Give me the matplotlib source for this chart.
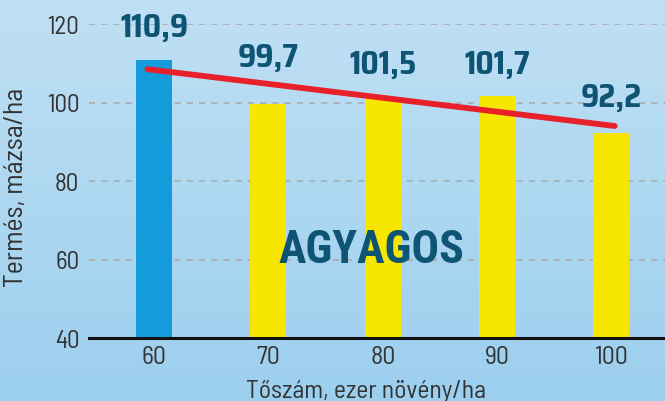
import numpy as np
import matplotlib
matplotlib.use("Agg")
import matplotlib.pyplot as plt

categories = [60, 70, 80, 90, 100]
values = [110.9, 99.7, 101.5, 101.7, 92.2]
value_labels = ["110,9", "99,7", "101,5", "101,7", "92,2"]
y_ticks = [40, 60, 80, 100, 120]
x_label = "Tőszám, ezer növény/ha"
y_label = "Termés, mázsa/ha"
title_text = "AGYAGOS"

tick_font = ["Barlow Semi Condensed", "DejaVu Sans"]
value_font = ["Saira SemiCondensed", "DejaVu Sans"]
title_font = ["Roboto Condensed", "DejaVu Sans"]

W, H = 665, 402
fig = plt.figure(figsize=(W / 100, H / 100), dpi=100)

# background gradient
bg = fig.add_axes([0, 0, 1, 1], zorder=-10)
grad = np.linspace(0, 1, 256).reshape(-1, 1)
top = np.array([0xc0, 0xe0, 0xf4]) / 255
bot = np.array([0x9c, 0xcf, 0xee]) / 255
img = top[None, None, :] * (1 - grad[:, :, None]) + bot[None, None, :] * grad[:, :, None]
bg.imshow(img, aspect="auto", extent=[0, 1, 0, 1])
bg.axis("off")

ax = fig.add_axes([89 / W, 1 - 339 / H, (W - 89) / W, (339 - 25) / H])
ax.set_facecolor("none")
ax.set_xlim(54.3, 104.7)
ax.set_ylim(40, 120)

colors = ["#139bdb"] + ["#f7e600"] * 4
ax.bar(categories, [v - 40 for v in values], bottom=40, width=3.15, color=colors, zorder=2)

# trend line (linear fit)
x = np.array(categories, dtype=float)
y = np.array(values)
k, b = np.polyfit(x, y, 1)
xs = np.array([59.4, 100.3])
ax.plot(xs, k * xs + b, color="#e8202a", lw=4.2, solid_capstyle="round", zorder=4)

offsets = [13, 23, 13, 12, 15]
for c, v, lab, off in zip(categories, values, value_labels, offsets):
    ax.annotate(lab, (c, v), xytext=(0, off), textcoords="offset points",
                ha="center", va="bottom", fontsize=23, fontweight="bold",
                color="#0e5474", family=value_font, zorder=5)

ax.text(79.0, 62.6, title_text, ha="center", va="center", fontsize=33,
        fontweight="bold", color="#0e5474", family=title_font, zorder=5)

for t in [60, 80, 100, 120]:
    ax.axhline(t, color="#a8a8a8", lw=1.1, ls=(0, (4, 4)), zorder=1)

ax.set_yticks(y_ticks)
ax.set_xticks(categories)
ax.set_yticklabels([str(t) for t in y_ticks], family=tick_font, fontsize=18, color="#333333")
ax.set_xticklabels([str(c) for c in categories], family=tick_font, fontsize=18.5, color="#333333")
ax.tick_params(length=0, pad=5)
ax.tick_params(axis="y", pad=7)
for s in ["left", "right", "top"]:
    ax.spines[s].set_visible(False)
ax.spines["bottom"].set_linewidth(2.2)
ax.spines["bottom"].set_color("#111111")
ax.spines["bottom"].set_zorder(6)

fig.text(366 / W, 1 - 392 / H, x_label, ha="center", va="center", family=tick_font,
         fontsize=18.5, color="#333333")
fig.text(16 / W, 1 - 187 / H, y_label, ha="center", va="center", rotation=90,
         family=tick_font, fontsize=20, color="#333333")

fig.savefig("out.png", dpi=100)
